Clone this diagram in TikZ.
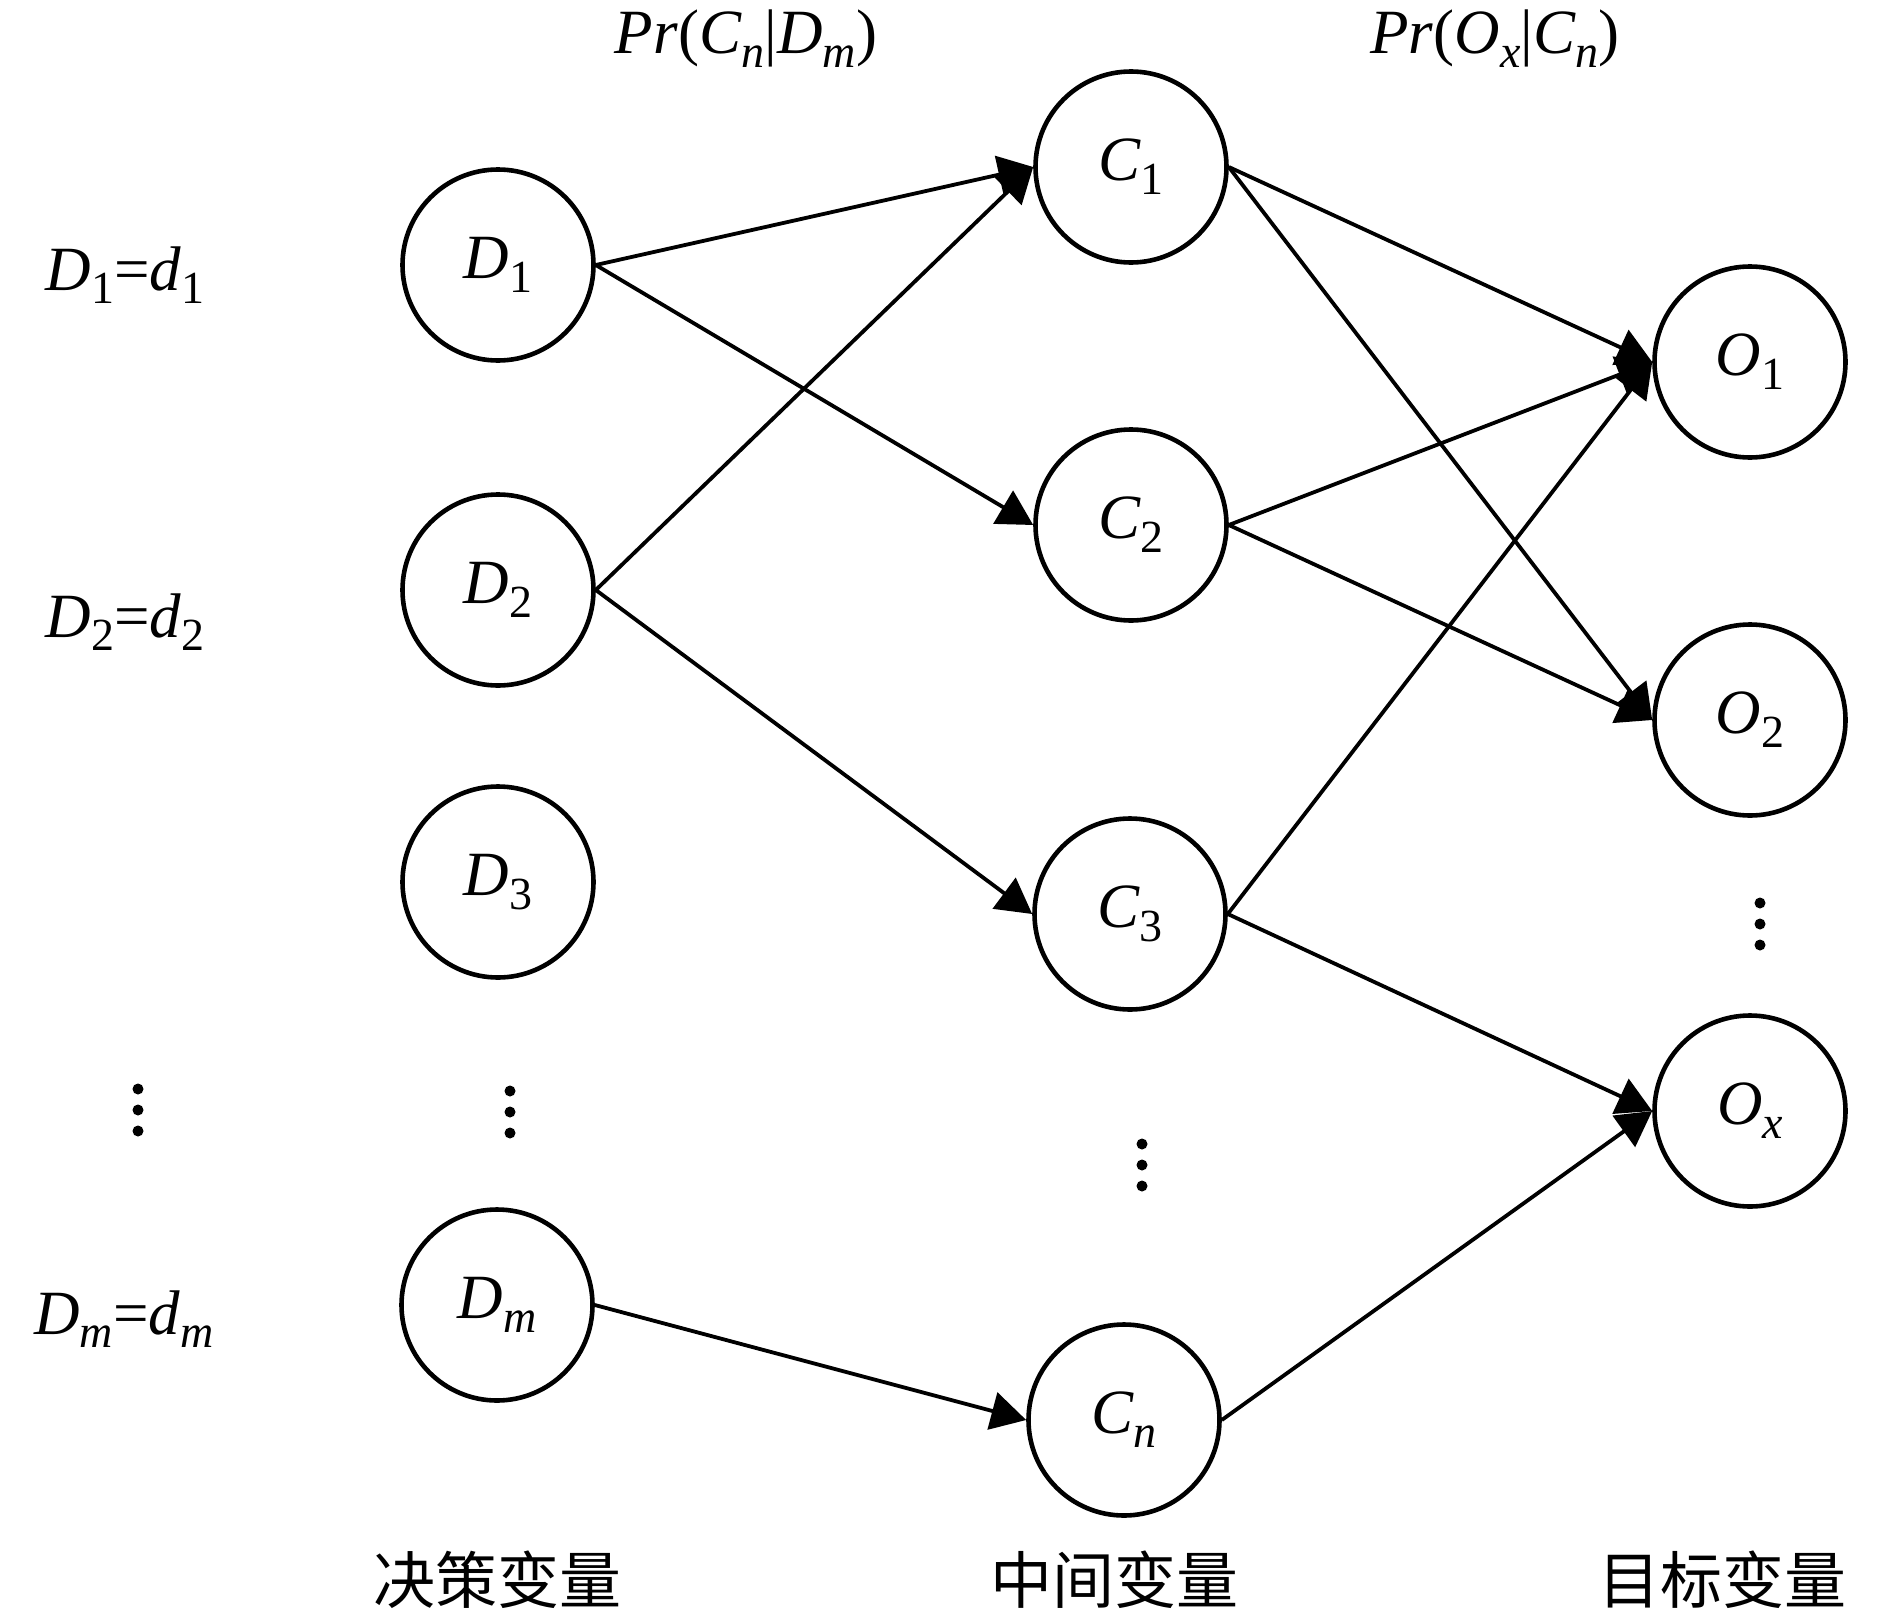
\documentclass[tikz,border=0pt]{standalone}
\usepackage{fontspec}
\setmainfont{Liberation Serif}
\newfontfamily\cjk{Noto Sans CJK SC}
\usetikzlibrary{arrows.meta}
\newcommand\sbs[1]{\raisebox{-0.22em}{\fontsize{46}{46}\selectfont #1}}
\newcommand\vn[2]{\textit{#1}\sbs{#2}}
\begin{document}
\begin{tikzpicture}[x=1pt,y=-1pt,
  var/.style={circle,draw,line width=4.6pt,minimum size=191pt,inner sep=0pt,font=\fontsize{63}{63}\selectfont},
  lbl/.style={font=\fontsize{63}{63}\selectfont,inner sep=0pt,anchor=base},
  cjklbl/.style={font=\fontsize{62}{62}\selectfont\cjk,inner sep=0pt,anchor=base},
  edge/.style={line width=3.8pt,-{Triangle[length=35pt,width=38pt]}},
  vdot/.style={circle,fill,inner sep=0pt,minimum size=11pt}]
\useasboundingbox (0,0) rectangle (1890,1611);
% decision variables
\node[var] (D1) at (498,265) {\vn{D}{1}};
\node[var] (D2) at (498,590) {\vn{D}{2}};
\node[var] (D3) at (498,882) {\vn{D}{3}};
\node[var] (Dm) at (497,1305) {\vn{D}{\textit{m}}};
% intermediate variables
\node[var] (C1) at (1131,167) {\vn{C}{1}};
\node[var] (C2) at (1131,525) {\vn{C}{2}};
\node[var] (C3) at (1130,914) {\vn{C}{3}};
\node[var] (Cn) at (1124,1420) {\vn{C}{\textit{n}}};
% target variables
\node[var] (O1) at (1750,362) {\vn{O}{1}};
\node[var] (O2) at (1750,720) {\vn{O}{2}};
\node[var] (Ox) at (1750,1111) {\vn{O}{\textit{x}}};
% left labels
\node[lbl] (L1) at (125,290) {\vn{D}{1}=\vn{d}{1}};
\node[lbl] (L2) at (125,637) {\vn{D}{2}=\vn{d}{2}};
\node[lbl] (Lm) at (124,1334) {\vn{D}{\textit{m}}=\vn{d}{\textit{m}}};
% top labels
\node[lbl] (P1) at (746,54) {\textit{Pr}(\vn{C}{\textit{n}}|\vn{D}{\textit{m}})};
\node[lbl] (P2) at (1495,54) {\textit{Pr}(\vn{O}{\textit{x}}|\vn{C}{\textit{n}})};
% bottom labels
\node[cjklbl] (B1) at (497,1603) {决策变量};
\node[cjklbl] (B2) at (1114,1603) {中间变量};
\node[cjklbl] (B3) at (1722,1603) {目标变量};
% dots
\foreach \n/\x/\y in {a/138/1089, b/510/1091, c/1142/1144, d/1760/903}{
  \node[vdot] (\n1) at (\x,\y) {};
  \node[vdot] (\n2) at (\x,\y+21) {};
  \node[vdot] (\n3) at (\x,\y+42) {};
}
% edges
\draw[edge] (D1.east) -- (C1.west);
\draw[edge] (D1.east) -- (C2.west);
\draw[edge] (D2.east) -- (C1.west);
\draw[edge] (D2.east) -- (C3.west);
\draw[edge] (Dm.east) -- (Cn.west);
\draw[edge] (C1.east) -- (O1.west);
\draw[edge] (C1.east) -- (O2.west);
\draw[edge] (C2.east) -- (O1.west);
\draw[edge] (C2.east) -- (O2.west);
\draw[edge] (C3.east) -- (O1.west);
\draw[edge] (C3.east) -- (Ox.west);
\draw[edge] (Cn.east) -- (Ox.west);
\end{tikzpicture}
\end{document}
